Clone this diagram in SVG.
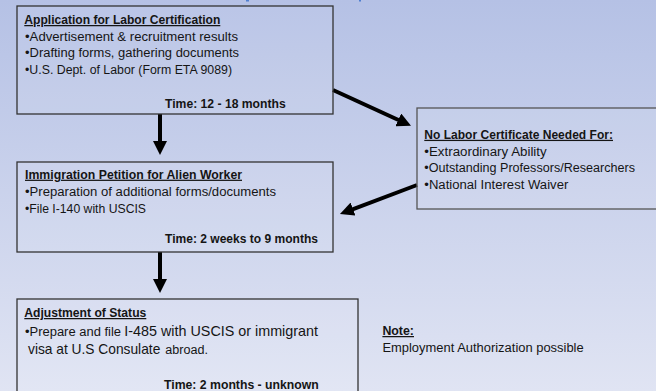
<svg xmlns="http://www.w3.org/2000/svg" width="656" height="391" viewBox="0 0 656 391">
  <defs>
    <linearGradient id="bg" x1="0" y1="0" x2="0" y2="1">
      <stop offset="0" stop-color="#b5c1e5"/>
      <stop offset="1" stop-color="#e0e4f3"/>
    </linearGradient>
    <marker id="ah" markerUnits="userSpaceOnUse" markerWidth="14" markerHeight="14" viewBox="0 0 14 14" refX="2" refY="7" orient="auto">
      <path d="M0,0 L14,7 L0,14 z" fill="#000"/>
    </marker>
    <style>
      .box { fill: #ffffff; fill-opacity: 0.08; stroke: #333; stroke-width: 1.3; }
      .box4 { stroke: #555; }
      text { font-family: "Liberation Sans", Arial, sans-serif; fill: #151515; }
      .t { font-size: 12.5px; font-weight: bold; text-decoration: underline; }
      .b { font-size: 12.5px; }
      .tm { font-size: 12.5px; font-weight: bold; }
      .s { font-size: 12px; }
      .L { font-size: 14.5px; }
      .conn { stroke: #000; stroke-width: 4; fill: none; marker-end: url(#ah); }
    </style>
  </defs>
  <rect width="656" height="391" fill="url(#bg)"/>
  <rect x="246" y="0" width="3" height="1.5" fill="#4f7fd0"/>
  <rect x="359" y="0" width="2" height="1.5" fill="#4f7fd0"/>

  <g id="connectors">
    <line class="conn" x1="160" y1="114" x2="160" y2="143"/>
    <line class="conn" x1="160" y1="252" x2="160" y2="281"/>
    <line class="conn" x1="333" y1="90" x2="400.1" y2="120.7"/>
    <line class="conn" x1="417" y1="185" x2="351.2" y2="209.8"/>
  </g>

  <g id="labor-cert">
    <rect class="box" x="17" y="6" width="316" height="108"/>
    <text class="t" x="24.3" y="24" textLength="196" lengthAdjust="spacingAndGlyphs">Application for Labor Certification</text>
    <text class="b" x="25" y="40.5" textLength="213" lengthAdjust="spacingAndGlyphs">•Advertisement &amp; recruitment results</text>
    <text class="b" x="25" y="57.3" textLength="214" lengthAdjust="spacingAndGlyphs">•Drafting forms, gathering documents</text>
    <text class="b" x="25" y="74" textLength="207" lengthAdjust="spacingAndGlyphs">•U.S. Dept. of Labor (Form ETA 9089)</text>
    <text class="tm" x="165" y="107.5" textLength="120.7" lengthAdjust="spacingAndGlyphs">Time: 12 - 18 months</text>
  </g>

  <g id="petition">
    <rect class="box" x="17" y="162" width="316" height="90"/>
    <text class="t" x="25" y="178.7" textLength="217" lengthAdjust="spacingAndGlyphs">Immigration Petition for Alien Worker</text>
    <text class="b" x="25" y="195.7" textLength="251" lengthAdjust="spacingAndGlyphs">•Preparation of additional forms/documents</text>
    <text class="b" x="25" y="212.7" textLength="121" lengthAdjust="spacingAndGlyphs">•File I-140 with USCIS</text>
    <text class="tm" x="165" y="242.7" textLength="153" lengthAdjust="spacingAndGlyphs">Time: 2 weeks to 9 months</text>
  </g>

  <g id="adjustment">
    <rect class="box" x="17" y="299" width="341" height="100"/>
    <text class="t" x="24.3" y="317" textLength="122" lengthAdjust="spacingAndGlyphs">Adjustment of Status</text>
    <text class="s" x="25" y="335.5" textLength="96" lengthAdjust="spacingAndGlyphs">•Prepare and file</text>
    <text class="L" x="124.3" y="335.5" textLength="193.7" lengthAdjust="spacingAndGlyphs">I-485 with USCIS or immigrant</text>
    <text class="L" x="28" y="354.3" textLength="132.3" lengthAdjust="spacingAndGlyphs">visa at U.S Consulate</text>
    <text class="s" x="165.3" y="354.3" textLength="42.7" lengthAdjust="spacingAndGlyphs">abroad.</text>
    <text class="tm" x="164" y="389.3" textLength="154.8" lengthAdjust="spacingAndGlyphs">Time: 2 months - unknown</text>
  </g>

  <g id="no-labor-cert">
    <rect class="box box4" x="417" y="108" width="250" height="101"/>
    <text class="t" x="424.3" y="138.8" textLength="188.7" lengthAdjust="spacingAndGlyphs">No Labor Certificate Needed For:</text>
    <text class="b" x="424.3" y="155.5" textLength="122.4" lengthAdjust="spacingAndGlyphs">•Extraordinary Ability</text>
    <text class="b" x="424.3" y="172.3" textLength="210.7" lengthAdjust="spacingAndGlyphs">•Outstanding Professors/Researchers</text>
    <text class="b" x="424.3" y="188.5" textLength="144" lengthAdjust="spacingAndGlyphs">•National Interest Waiver</text>
  </g>

  <g id="note">
    <text class="t" x="382.4" y="335" textLength="31.6" lengthAdjust="spacingAndGlyphs">Note:</text>
    <text class="b" x="382.4" y="352" textLength="201.3" lengthAdjust="spacingAndGlyphs">Employment Authorization possible</text>
  </g>
</svg>
